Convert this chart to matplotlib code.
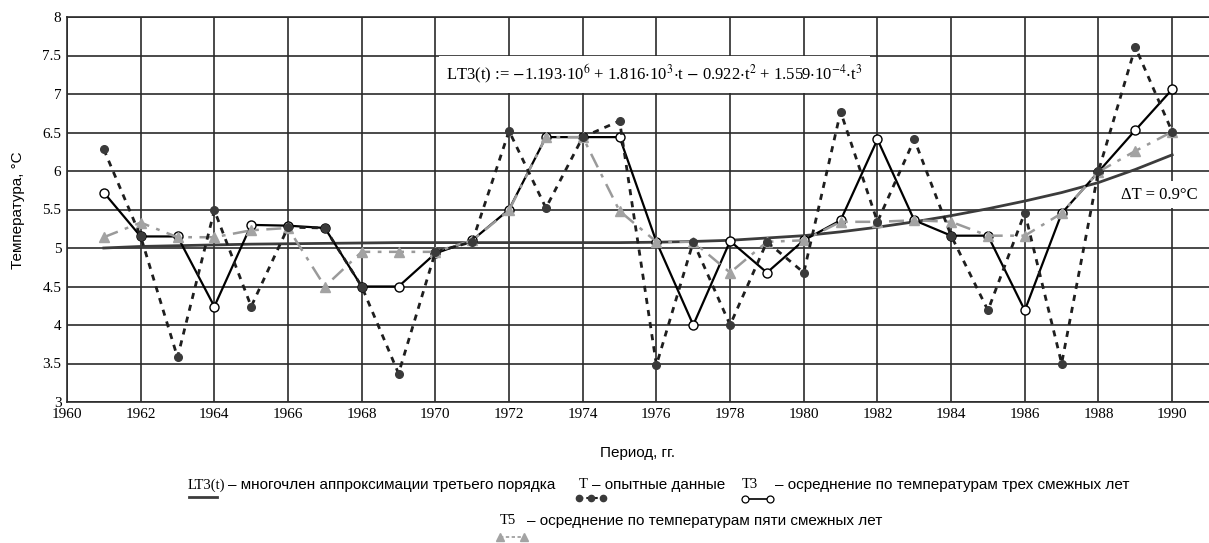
import matplotlib.pyplot as plt
from matplotlib.lines import Line2D

# --- данные ---
years = list(range(1961, 1991))

# T - опытные данные
t_exp = [6.28, 5.15, 3.58, 5.49, 4.24, 5.27, 5.26, 4.50, 3.37, 4.95,
         5.08, 6.52, 5.52, 6.44, 6.65, 3.48, 5.08, 4.00, 5.08, 4.68,
         6.77, 5.34, 6.41, 5.16, 4.19, 5.46, 3.50, 6.00, 7.61, 6.51]

# T3 - осреднение по трем смежным годам
t3 = [5.72, 5.15, 5.15, 4.24, 5.30, 5.29, 5.26, 4.50, 4.50, 4.93,
      5.10, 5.50, 6.44, 6.44, 6.44, 5.08, 4.00, 5.09, 4.68, 5.10,
      5.36, 6.41, 5.36, 5.16, 5.16, 4.19, 5.45, 5.99, 6.53, 7.06]

# T5 - осреднение по пяти смежным годам
t5 = [5.14, 5.33, 5.14, 5.14, 5.23, 5.26, 4.50, 4.95, 4.95, 4.95,
      5.10, 5.49, 6.44, 6.44, 5.48, 5.08, 5.08, 4.68, 5.08, 5.10,
      5.34, 5.34, 5.36, 5.34, 5.16, 5.16, 5.45, 5.99, 6.26, 6.51]

# LT3 - многочлен третьего порядка (значения по годам)
lt3 = [5.00, 5.02, 5.03, 5.04, 5.05, 5.055, 5.06, 5.065, 5.07, 5.07,
       5.07, 5.07, 5.07, 5.07, 5.07, 5.075, 5.085, 5.10, 5.13, 5.16,
       5.21, 5.27, 5.34, 5.42, 5.51, 5.61, 5.72, 5.85, 6.02, 6.21]

x_ticks = list(range(1960, 1991, 2))
y_ticks = [3, 3.5, 4, 4.5, 5, 5.5, 6, 6.5, 7, 7.5, 8]
y_labels = ['3', '3.5', '4', '4.5', '5', '5.5', '6', '6.5', '7', '7.5', '8']

formula = (r'LT3(t) := $-$1.193$\cdot$10$^{6}$ + 1.816$\cdot$10$^{3}$$\cdot$t $-$ '
           r'0.922$\cdot$t$^{2}$ + 1.559$\cdot$10$^{-4}$$\cdot$t$^{3}$')

plt.rcParams['mathtext.fontset'] = 'stix'
serif = 'Liberation Serif'
sans = 'Liberation Sans'

W, H = 1209, 543
fig = plt.figure(figsize=(W / 100, H / 100), dpi=100)
ax = fig.add_axes([67 / W, (H - 402) / H, (W - 67) / W, 385 / H])

cor_grade = '#2b2b2b'
ax.plot(years, lt3, color='#3c3c3c', lw=2.0, zorder=2)
ax.plot(years, t3, color='black', lw=1.6, marker='o', markersize=6.5,
        markerfacecolor='white', markeredgecolor='black', markeredgewidth=1.0, zorder=3)
ax.plot(years, t5, color='#9a9a9a', lw=1.8, linestyle=(0, (6, 3, 1.5, 3)),
        marker='^', markersize=7.5, markerfacecolor='#a3a3a3', markeredgecolor='#a3a3a3', zorder=4)
ax.plot(years, t_exp, color='#1e1e1e', lw=2.0, linestyle=(0, (2.2, 2.2)),
        marker='o', markersize=5.5, markerfacecolor='#3a3a3a', markeredgecolor='#3a3a3a', zorder=5)

ax.set_xlim(1960, 1991)
ax.set_ylim(3, 8)
ax.set_xticks(x_ticks)
ax.set_xticklabels([str(a) for a in x_ticks], fontfamily=serif, fontsize=11)
ax.set_yticks(y_ticks)
ax.set_yticklabels(y_labels, fontfamily=serif, fontsize=11)
ax.tick_params(length=0, pad=4)
ax.grid(True, color=cor_grade, lw=1.2)
ax.set_axisbelow(True)
for lado in ['left', 'bottom', 'top']:
    ax.spines[lado].set_color(cor_grade)
    ax.spines[lado].set_linewidth(1.2)
ax.spines['right'].set_visible(False)

# формула и ΔT
ax.text(1970.3, 7.25, formula, fontfamily=serif, fontsize=12, ha='left', va='center',
        bbox=dict(fc='white', ec='none', pad=5), zorder=6)
ax.text(1988.6, 5.69, 'ΔT = 0.9°C', fontfamily=serif, fontsize=12, ha='left', va='center',
        bbox=dict(fc='white', ec='none', pad=4), zorder=6)

fig.text(18 / W, 1 - 210 / H, 'Температура, °C', rotation=90, ha='center', va='center',
         fontfamily=sans, fontsize=11)
fig.text(638 / W, 1 - 453 / H, 'Период, гг.', ha='center', va='center',
         fontfamily=sans, fontsize=11)

# --- легенда внизу (в пикселях фигуры) ---
lg = fig.add_axes([0, 0, 1, 1], zorder=-1)
lg.set_xlim(0, W)
lg.set_ylim(H, 0)
lg.axis('off')


def texto(x, y, s, serifa=False):
    if serifa:
        lg.text(x, y, s, fontfamily=serif, fontsize=10.5, ha='left', va='center')
    else:
        lg.text(x, y, s, fontfamily=sans, fontsize=11, ha='left', va='center')


y1, y2 = 485, 521
texto(188, y1, 'LT3(t)', serifa=True)
lg.add_line(Line2D([189, 217], [497, 497], color='#3c3c3c', lw=2))
texto(228, y1, '– многочлен аппроксимации третьего порядка')

texto(579, y1, 'T', serifa=True)
lg.add_line(Line2D([579, 603], [498, 498], color='#1e1e1e', lw=1.5, linestyle=(0, (2, 1.5))))
lg.add_line(Line2D([579, 591, 603], [498, 498, 498], color='#3a3a3a', lw=0,
                   marker='o', markersize=4.5))
texto(592, y1, '– опытные данные')

texto(742, y1, 'T3', serifa=True)
lg.add_line(Line2D([745, 770], [499, 499], color='black', lw=1.2, marker='o', markersize=5,
                   markerfacecolor='white', markeredgecolor='black', markeredgewidth=0.9))
texto(775, y1, '– осреднение по температурам трех смежных лет')

texto(500, y2, 'T5', serifa=True)
lg.add_line(Line2D([500, 524], [537, 537], color='#9a9a9a', lw=1.2, linestyle=(0, (2, 1.5)),
                   marker='^', markersize=5.5, markerfacecolor='#a3a3a3', markeredgecolor='#a3a3a3'))
texto(527, y2, '– осреднение по температурам пяти смежных лет')

fig.savefig('out.png', dpi=100, facecolor='white')
